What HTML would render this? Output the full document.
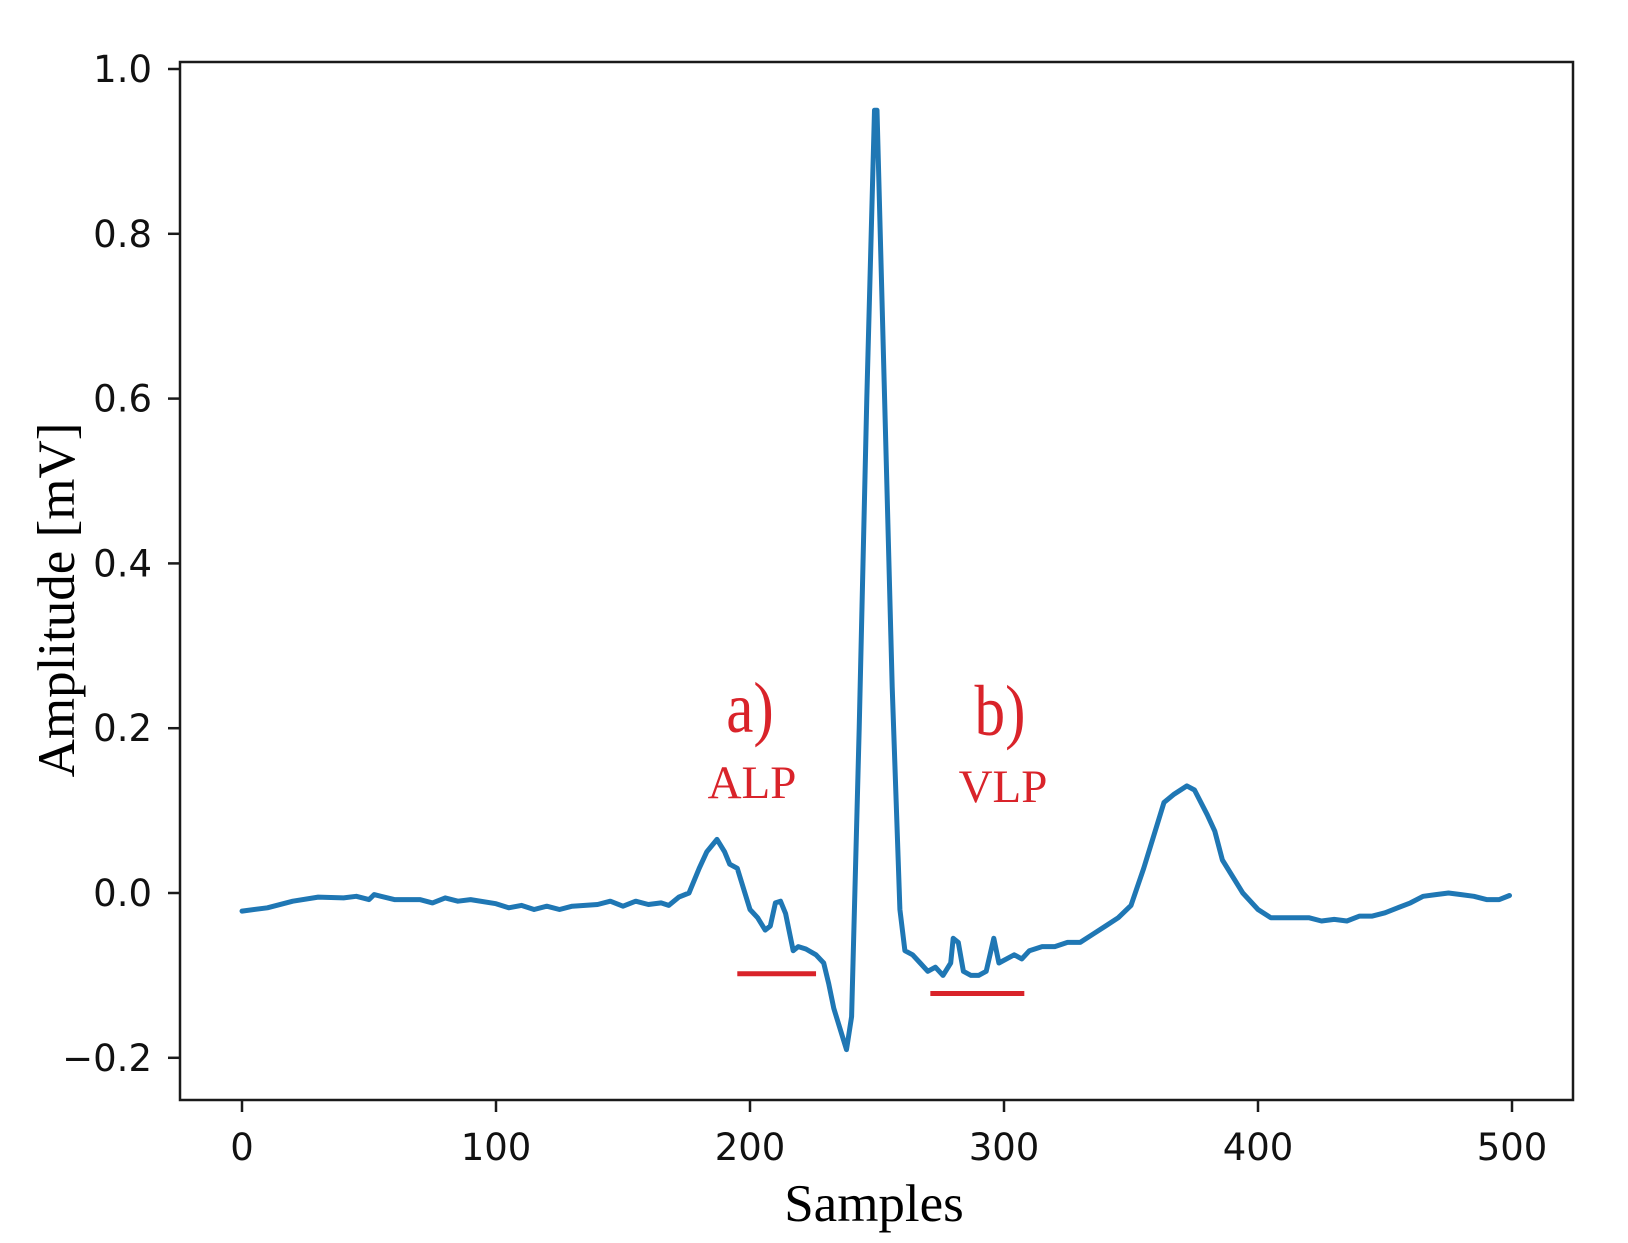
<!DOCTYPE html>
<html><head><meta charset="utf-8">
<style>
html,body{margin:0;padding:0;background:#fff;}
svg{display:block;}
.tick{font-family:"DejaVu Sans","Liberation Sans",sans-serif;font-size:37px;fill:#111;}
.lab{font-family:"Liberation Serif",serif;font-size:53px;fill:#000;}
.ann{font-family:"Liberation Serif",serif;fill:#d9232a;}
</style></head>
<body>
<svg id="chart" width="1628" height="1243" viewBox="0 0 1628 1243" xmlns="http://www.w3.org/2000/svg">
<rect x="0" y="0" width="1628" height="1243" fill="#fff"/>
<g id="plot"></g>
<rect x="180" y="62" width="1393" height="1038" fill="none" stroke="#1a1a1a" stroke-width="2.5"/>
<g id="xticks"></g>
<g id="yticks"></g>
<text class="lab" x="874" y="1221" text-anchor="middle">Samples</text>
<text class="lab" transform="translate(74,600) rotate(-90)" text-anchor="middle">Amplitude [mV]</text>
<text class="ann" transform="translate(750,732) scale(0.85,1)" font-size="72" text-anchor="middle">a)</text>
<text class="ann" x="752" y="798" font-size="47" text-anchor="middle">ALP</text>
<text class="ann" transform="translate(1000,735) scale(0.85,1)" font-size="72" text-anchor="middle">b)</text>
<text class="ann" x="1003" y="802" font-size="47" text-anchor="middle">VLP</text>
</svg>
<script>
const xTicks=[0,100,200,300,400,500];
const yTicks=[-0.2,0.0,0.2,0.4,0.6,0.8,1.0];
const yTickLabels=["\u22120.2","0.0","0.2","0.4","0.6","0.8","1.0"];
const sampleX=[0,10,20,30,40,45,50,52,60,70,75,80,85,90,100,105,110,115,120,125,130,140,145,150,155,160,165,168,172,176,180,183,187,190,192,195,198,200,203,206,208,210,212,214,217,219,222,226,229,231,233,236,238,240,243,246,249,250,253,256,259,261,264,267,270,273,276,279,280,282,284,287,290,293,296,298,301,304,307,310,315,320,325,330,335,340,345,350,355,360,363,367,372,375,380,383,386,390,394,400,405,410,415,420,425,430,435,440,445,450,455,460,465,470,475,480,485,490,495,499];
const amplitude=[-0.022,-0.018,-0.01,-0.005,-0.006,-0.004,-0.008,-0.002,-0.008,-0.008,-0.012,-0.006,-0.01,-0.008,-0.013,-0.018,-0.015,-0.02,-0.016,-0.02,-0.016,-0.014,-0.01,-0.016,-0.01,-0.014,-0.012,-0.015,-0.005,0.0,0.03,0.05,0.065,0.05,0.035,0.03,0.0,-0.02,-0.03,-0.045,-0.04,-0.012,-0.01,-0.025,-0.07,-0.065,-0.068,-0.075,-0.085,-0.11,-0.14,-0.17,-0.19,-0.15,0.2,0.6,0.95,0.95,0.6,0.25,-0.02,-0.07,-0.075,-0.085,-0.095,-0.09,-0.1,-0.085,-0.055,-0.06,-0.095,-0.1,-0.1,-0.095,-0.055,-0.085,-0.08,-0.075,-0.08,-0.07,-0.065,-0.065,-0.06,-0.06,-0.05,-0.04,-0.03,-0.015,0.03,0.08,0.11,0.12,0.13,0.125,0.095,0.075,0.04,0.02,0.0,-0.02,-0.03,-0.03,-0.03,-0.03,-0.034,-0.032,-0.034,-0.028,-0.028,-0.024,-0.018,-0.012,-0.004,-0.002,0.0,-0.002,-0.004,-0.008,-0.008,-0.003];
const alpSpan=[195,226];
const alpLevel=-0.098;
const vlpSpan=[271,308];
const vlpLevel=-0.122;

const NS="http://www.w3.org/2000/svg";
function sx(v){return 242+v*2.54;}
function sy(v){return 893-v*824;}
function mk(tag,attrs,parent){const e=document.createElementNS(NS,tag);for(const k in attrs)e.setAttribute(k,attrs[k]);parent.appendChild(e);return e;}

const plot=document.getElementById('plot');
let d='';
for(let i=0;i<sampleX.length;i++){d+=(i?'L':'M')+sx(sampleX[i]).toFixed(1)+' '+sy(amplitude[i]).toFixed(1);}
const line=mk('path',{d:d,fill:'none',stroke:'#1f77b4','stroke-width':5,'stroke-linejoin':'round','stroke-linecap':'round'},plot);



const b1=mk('line',{x1:sx(alpSpan[0]),x2:sx(alpSpan[1]),y1:sy(alpLevel),y2:sy(alpLevel),stroke:'#d9232a','stroke-width':5},plot);


const b2=mk('line',{x1:sx(vlpSpan[0]),x2:sx(vlpSpan[1]),y1:sy(vlpLevel),y2:sy(vlpLevel),stroke:'#d9232a','stroke-width':5},plot);



const xg=document.getElementById('xticks');
xTicks.forEach(t=>{
  const tl=mk('line',{x1:sx(t),x2:sx(t),y1:1100,y2:1112,stroke:'#1a1a1a','stroke-width':2.5},xg);
  
  
  const tx=mk('text',{x:sx(t),y:1160,'text-anchor':'middle',class:'tick'},xg);
  tx.textContent=String(t);
  
  
});
const yg=document.getElementById('yticks');
yTicks.forEach((t,i)=>{
  const tl=mk('line',{x1:168,x2:180,y1:sy(t),y2:sy(t),stroke:'#1a1a1a','stroke-width':2.5},yg);
  
  
  const tx=mk('text',{x:152,y:sy(t)+13,'text-anchor':'end',class:'tick'},yg);
  tx.textContent=yTickLabels[i];
  
  
});
</script>
</body></html>
